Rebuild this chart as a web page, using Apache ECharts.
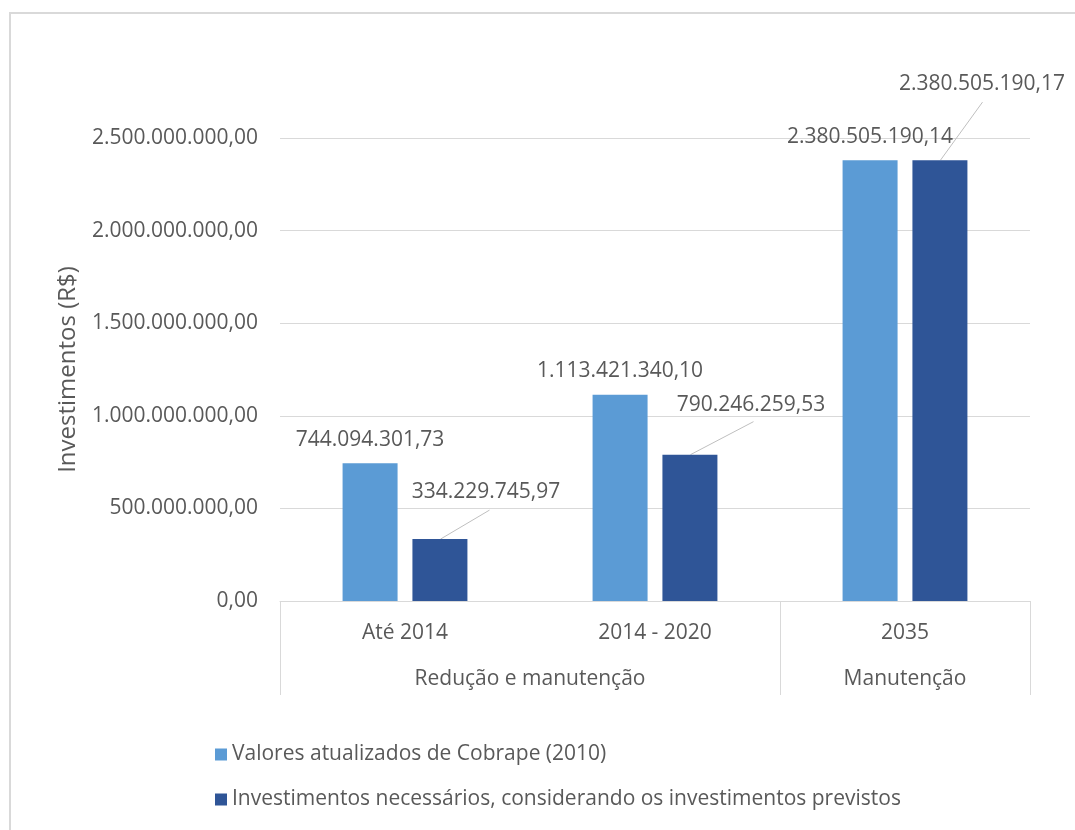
<!DOCTYPE html>
<html><head><meta charset="utf-8">
<script src="https://cdn.jsdelivr.net/npm/echarts@6/dist/echarts.min.js"></script>
<style>
html,body{margin:0;padding:0;background:#fff;overflow:hidden}
#frame{position:absolute;left:9px;top:12px;width:1200px;height:900px;border:2px solid #d9d9d9;box-sizing:border-box;pointer-events:none;z-index:2}
#c{position:absolute;left:0;top:0;width:1075px;height:830px}
</style></head>
<body>
<div id="c"></div><div id="frame"></div>
<script>
const categories = ['Até 2014', '2014 - 2020', '2035'];
const groups = ['Redução e manutenção', 'Manutenção'];
const seriesNames = ['Valores atualizados de Cobrape (2010)', 'Investimentos necessários, considerando os investimentos previstos'];
const cobrape = [744094301.73, 1113421340.10, 2380505190.14];
const necessarios = [334229745.97, 790246259.53, 2380505190.17];
const yTicks = [0, 500000000, 1000000000, 1500000000, 2000000000, 2500000000];

function br(v){
  const s = Number(v).toFixed(2);
  const p = s.split('.');
  return p[0].replace(/\B(?=(\d{3})+(?!\d))/g, '.') + ',' + p[1];
}
const FONT = 'Open Sans';
const TXT = '#595959';
const FS = 21;
// label placement (pixels relative to top-centre of the dark bar)
const labelOffsets = [[46, -47], [61, -50], [42, -76]];
const leaderOffsets = [[49, -29], [63, -33], [42, -58]];
const darkBarShift = 35.5;
const chart = echarts.init(document.getElementById('c'));
chart.setOption({
  animation: false,
  textStyle: {fontFamily: FONT},
  grid: {left: 280, right: 45, top: 138, bottom: 229},
  legend: {
    orient: 'vertical', left: 210, top: 739, itemWidth: 12, itemHeight: 12, itemGap: 24,
    icon: 'rect', data: seriesNames,
    textStyle: {fontFamily: FONT, fontSize: FS, color: TXT}
  },
  xAxis: [{
    type: 'category', data: categories,
    axisLine: {lineStyle: {color: '#d9d9d9', width: 1}},
    axisTick: {show: true, length: 94, interval: function(i){ return i !== 1; }, lineStyle: {color: '#d9d9d9'}},
    axisLabel: {fontFamily: FONT, fontSize: FS, color: TXT, margin: 22}
  }, {
    type: 'value', min: 0, max: 6, interval: 1, position: 'bottom',
    axisLine: {show: false}, axisTick: {show: false}, splitLine: {show: false},
    axisLabel: {fontFamily: FONT, fontSize: FS, color: TXT, margin: 68, showMinLabel: true, showMaxLabel: true,
      formatter: function(v){ if (v === 2) return groups[0]; if (v === 5) return groups[1]; return ''; }}
  }],
  yAxis: {
    type: 'value', min: 0, max: yTicks[yTicks.length-1], interval: yTicks[1] - yTicks[0],
    name: 'Investimentos (R$)', nameLocation: 'middle', nameGap: 200,
    nameTextStyle: {fontFamily: FONT, fontSize: 24, color: TXT},
    axisLine: {show: false}, axisTick: {show: false},
    splitLine: {lineStyle: {color: '#d9d9d9', width: 1}},
    axisLabel: {fontFamily: FONT, fontSize: FS, color: TXT, margin: 22, formatter: br}
  },
  series: [{
    name: seriesNames[0], type: 'bar', data: cobrape, barWidth: 55, barGap: '27%',
    itemStyle: {color: '#5B9BD5'},
    label: {show: true, position: 'top', distance: 13, fontFamily: FONT, fontSize: FS, color: TXT, formatter: p => br(p.value)}
  }, {
    name: seriesNames[1], type: 'bar', data: necessarios, barWidth: 55,
    itemStyle: {color: '#2F5597'},
    label: {show: true, position: 'top', distance: 5, fontFamily: FONT, fontSize: FS, color: TXT, formatter: p => br(p.value)},
    labelLayout: function(params){
      const r = params.rect, o = labelOffsets[params.dataIndex];
      return {x: r.x + r.width / 2 + o[0], y: r.y + o[1], align: 'center', verticalAlign: 'middle'};
    }
  }, {
    type: 'custom', silent: true, z: 1,
    data: necessarios.map((v, i) => [i, v]),
    renderItem: function(params, api){
      const i = api.value(0);
      const p = api.coord([i, api.value(1)]);
      const o = leaderOffsets[i];
      const x0 = p[0] + darkBarShift, y0 = p[1];
      return {type: 'line', shape: {x1: x0, y1: y0, x2: x0 + o[0], y2: y0 + o[1]},
        style: {stroke: '#bfbfbf', lineWidth: 1}};
    }
  }]
});
</script>
</body></html>
